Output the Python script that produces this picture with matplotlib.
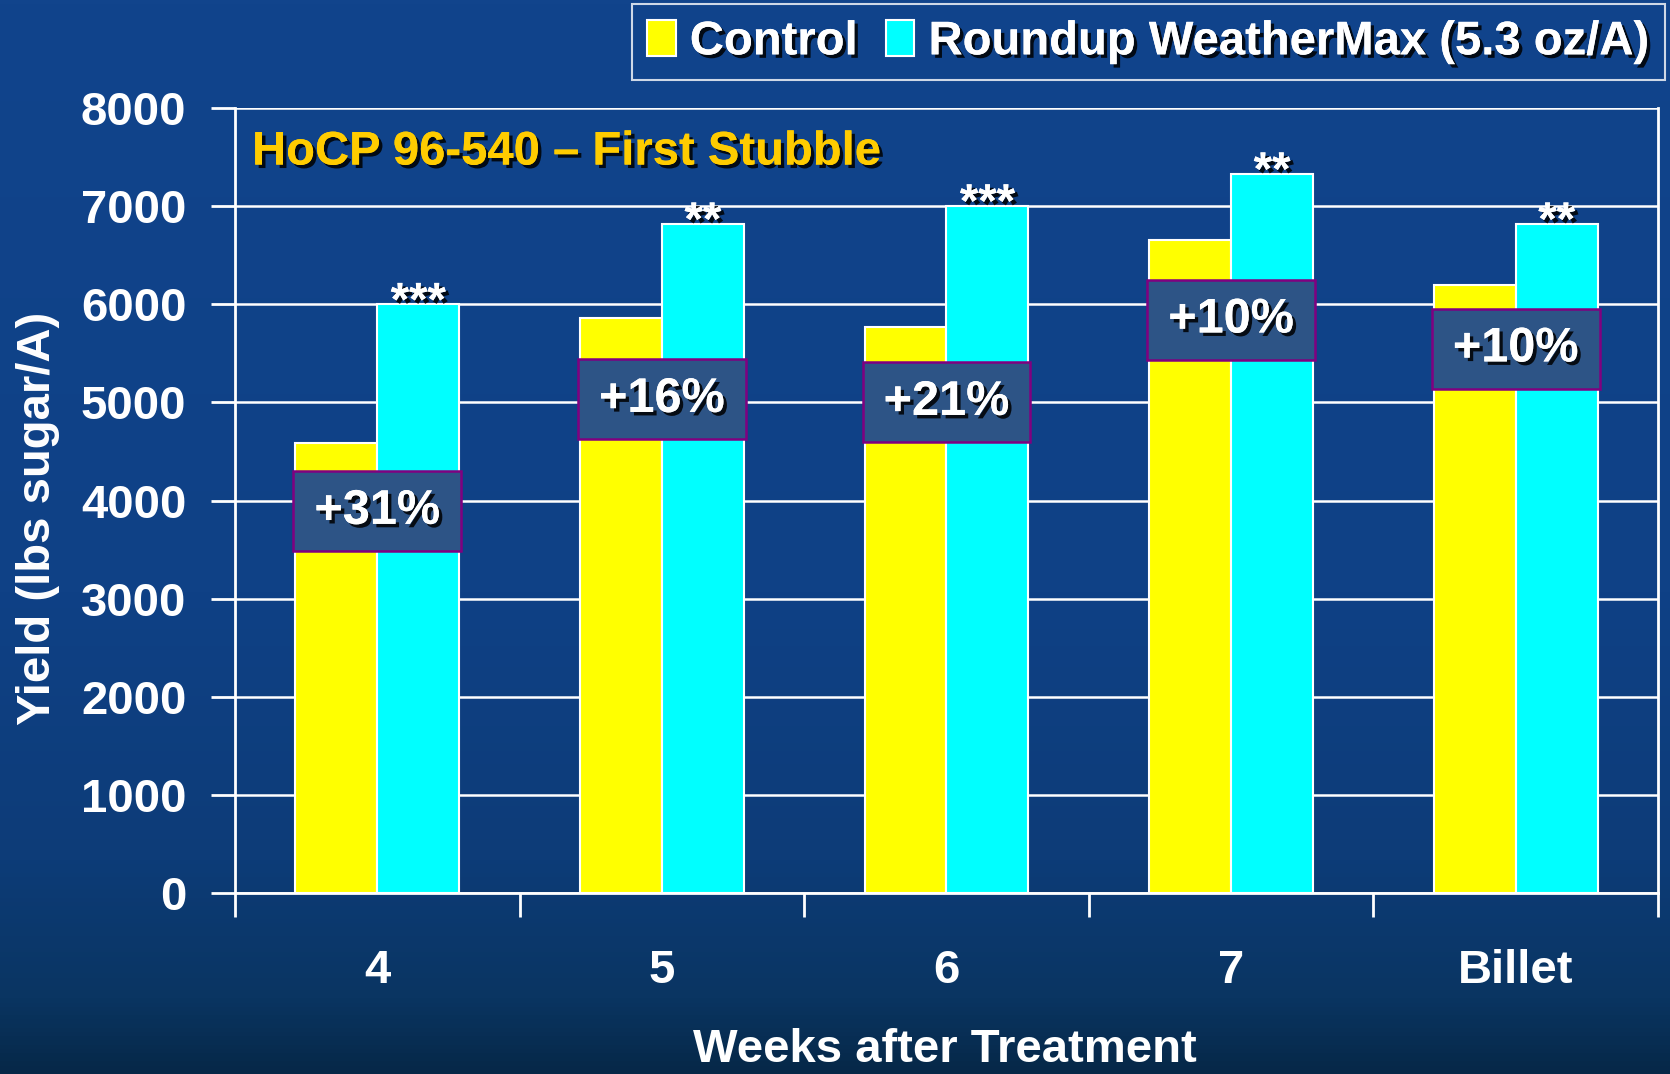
'''
plot.py
yield of HoCP 96-540 first stubble, control vs roundup weathermax
bars per weeks after treatment, with percent increase boxes and significance stars
'''
import numpy as np
import matplotlib
matplotlib.use('Agg')
import matplotlib.pyplot as plt
import matplotlib.patheffects as pe
from matplotlib.colors import LinearSegmentedColormap
from matplotlib.patches import Patch, Rectangle

#data
categories = ['4', '5', '6', '7', 'Billet']
control = [4590, 5865, 5765, 6660, 6195]
roundup = [6000, 6820, 7005, 7330, 6820]
stars = ['***', '**', '***', '**', '**']
increase_labels = ['+31%', '+16%', '+21%', '+10%', '+10%']
increase_y = [3890, 5030, 5000, 5840, 5545]
y_ticks = [0, 1000, 2000, 3000, 4000, 5000, 6000, 7000, 8000]

plt.rcParams['font.family'] = ['Liberation Sans', 'DejaVu Sans']
plt.rcParams['font.weight'] = 'bold'

fig = plt.figure(figsize=(16.7, 10.74), dpi=100)

#blue slide background, darker towards the bottom
bg = fig.add_axes([0, 0, 1, 1], zorder=-5)
cmap = LinearSegmentedColormap.from_list('slide', [(0.0, '#062848'), (0.07, '#0a3562'), (0.2, '#0d3c78'),
                                                   (0.45, '#0f4186'), (1.0, '#11448c')])
grad = np.linspace(0, 1, 256).reshape(-1, 1)
bg.imshow(grad, aspect='auto', cmap=cmap, origin='lower', extent=[0, 1, 0, 1])
bg.axis('off')

ax = fig.add_axes([0.1407, 0.1685, 0.8521, 0.7309])
ax.set_facecolor('none')

shadow = [pe.withSimplePatchShadow(offset=(2.5, -2.5), shadow_rgbFace='black', alpha=0.85), pe.Normal()]

x = np.arange(len(categories))
w = 0.288
ax.bar(x - w/2, control, w, color='#ffff00', edgecolor='white', linewidth=1.5, zorder=3)
ax.bar(x + w/2, roundup, w, color='#00ffff', edgecolor='white', linewidth=1.5, zorder=3)

#significance stars above the treated bars
for i, s in enumerate(stars):
    ax.annotate(s, (x[i] + w/2, roundup[i]), xytext=(0, -8), textcoords='offset points',
                ha='center', va='baseline', fontsize=34, color='white', path_effects=shadow, zorder=6)

#percent increase boxes
box_h = 815
for i, lab in enumerate(increase_labels):
    ax.add_patch(Rectangle((x[i] - 0.295, increase_y[i] - box_h/2), 0.59, box_h, facecolor='#2d5486',
                           edgecolor='#800080', linewidth=1.8, zorder=4))
    ax.text(x[i], increase_y[i], lab, ha='center', va='center', fontsize=35, color='white',
            path_effects=shadow, zorder=5)

ax.set_xlim(-0.5, len(categories) - 0.5)
ax.set_ylim(0, 8000)
ax.set_yticks(y_ticks)
ax.yaxis.grid(True, color='white', linewidth=1.8, zorder=0)
ax.set_axisbelow(True)

#ticks on x sit between categories, labels at the centers
ax.set_xticks(np.arange(-0.5, len(categories)), minor=False)
ax.set_xticklabels([])
ax.set_xticks(x, minor=True)
ax.set_xticklabels(categories, minor=True)
ax.tick_params(axis='x', which='major', length=17, width=2, color='white', direction='out')
ax.tick_params(axis='x', which='minor', length=0, pad=40, labelsize=34, labelcolor='white')
ax.tick_params(axis='y', length=17, width=2, color='white', pad=18, labelsize=34, labelcolor='white')

for side in ['left', 'bottom', 'right']:
    ax.spines[side].set_color('white')
    ax.spines[side].set_linewidth(2)
ax.spines['top'].set_visible(False)

#axis titles placed on the figure to match the slide
fig.text(0.566, 1 - 1062/1074, 'Weeks after Treatment', fontsize=34, fontweight='bold', color='white',
         ha='center', va='baseline')
fig.text(0.023, 0.517, 'Yield (lbs sugar/A)', fontsize=34, fontweight='bold', color='white',
         ha='center', va='center', rotation=90)

ax.text(0.012, 0.928, 'HoCP 96-540 \u2013 First Stubble', transform=ax.transAxes, fontsize=34,
        color='#ffcc00', ha='left', va='baseline', path_effects=shadow, zorder=6)

handles = [Patch(facecolor='#ffff00', edgecolor='white', linewidth=1.5),
           Patch(facecolor='#00ffff', edgecolor='white', linewidth=1.5)]
leg = fig.legend(handles, ['Control', 'Roundup WeatherMax (5.3 oz/A)'], loc='upper right',
                 bbox_to_anchor=(0.997, 0.996), ncol=2, fontsize=34, frameon=True, fancybox=False,
                 handlelength=0.6, handleheight=0.8, handletextpad=0.3, columnspacing=0.6,
                 borderpad=0.33, borderaxespad=0)
leg.get_frame().set_facecolor('none')
leg.get_frame().set_edgecolor('white')
leg.get_frame().set_linewidth(1.5)
for t in leg.get_texts():
    t.set_color('white')
    t.set_path_effects(shadow)

plt.savefig('out.png', dpi=100, facecolor=fig.get_facecolor())
plt.close()
